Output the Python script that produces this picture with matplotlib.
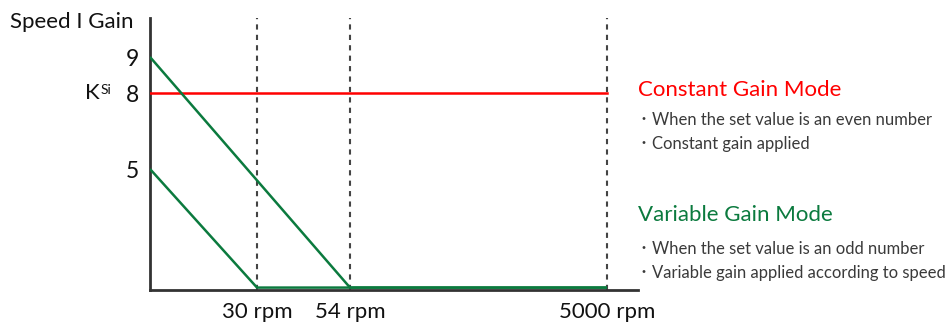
import numpy as np
import matplotlib.pyplot as plt

plt.rcParams['font.family'] = ['Lato', 'Noto Sans CJK JP', 'DejaVu Sans']

## values
rpm_ticks = [30, 54, 5000]
rpm_labels = ['30 rpm', '54 rpm', '5000 rpm']
gain_ticks = [5, 8, 9]
constant_gain = 8
var_low_rpm = [0, 30, 5000]
var_low_gain = [5, 0.1, 0.1]
var_high_rpm = [0, 54, 5000]
var_high_gain = [9, 0.1, 0.1]

const_title = 'Constant Gain Mode'
const_notes = ['When the set value is an even number', 'Constant gain applied']
var_title = 'Variable Gain Mode'
var_notes = ['When the set value is an odd number', 'Variable gain applied according to speed']

## the axes in the picture are schematic, so use piecewise scales
x_knots = [0, 30, 54, 5000, 6000]
x_px = [0, 107, 200, 457, 488]
y_knots = [0, 5, 8, 9, 10]
y_px = [0, 121, 197, 233, 272]

def fx(v):
    return np.interp(v, x_knots, x_px)

def ix(v):
    return np.interp(v, x_px, x_knots)

def fy(v):
    return np.interp(v, y_knots, y_px)

def iy(v):
    return np.interp(v, y_px, y_knots)

red = '#ff0000'
green = '#0b7a3e'
grey = '#444444'
note_col = '#3a3a3a'

fig = plt.figure(figsize=(9.52, 3.24), dpi=100)
ax = fig.add_axes([150/952, 1 - 290/324, 488/952, 272/324])
ax.set_xscale('function', functions=(fx, ix))
ax.set_yscale('function', functions=(fy, iy))
ax.set_xlim(0, 6000)
ax.set_ylim(0, 10)

for r in rpm_ticks:
    ax.axvline(r, color=grey, lw=1.5, ls=(0, (2.5, 2.5)), zorder=1)

ax.plot([0, 5000], [constant_gain, constant_gain], color=red, lw=1.8, zorder=3)
ax.plot(var_low_rpm, var_low_gain, color=green, lw=1.8, zorder=3, solid_capstyle='butt')
ax.plot(var_high_rpm, var_high_gain, color=green, lw=1.8, zorder=3, solid_capstyle='butt')

for s in ['top', 'right']:
    ax.spines[s].set_visible(False)
for s in ['left', 'bottom']:
    ax.spines[s].set_color('#333333')
    ax.spines[s].set_linewidth(2)

ax.set_xticks(rpm_ticks)
ax.set_xticklabels(rpm_labels)
ax.xaxis.set_minor_locator(plt.NullLocator())
ax.yaxis.set_minor_locator(plt.NullLocator())
ax.set_yticks(gain_ticks)
ax.set_yticklabels([str(g) for g in gain_ticks])
ax.tick_params(axis='x', length=0, pad=9, labelsize=16, labelcolor='#111111')
ax.tick_params(axis='y', length=0, pad=8, labelsize=16.5, labelcolor='#111111')

fig.text(10/952, 1 - 22/324, 'Speed I Gain', fontsize=16, color='#111111', va='center', ha='left')
ax.annotate('K', xy=(0, constant_gain), xycoords=('axes fraction', 'data'),
            xytext=(-36, 0), textcoords='offset points', fontsize=16,
            ha='right', va='center', color='#111111')
ax.annotate('Si', xy=(0, constant_gain), xycoords=('axes fraction', 'data'),
            xytext=(-35.5, 2), textcoords='offset points', fontsize=10,
            ha='left', va='center', color='#111111')

def notes(lines, y0):
    for i, t in enumerate(lines):
        y = 1 - (y0 + 24*i)/324
        fig.text(644/952, y, '・', fontsize=10, color=note_col, va='center', ha='center')
        fig.text(652/952, y, t, fontsize=12, color=note_col, va='center')

fig.text(638/952, 1 - 90/324, const_title, fontsize=16, color=red, va='center')
notes(const_notes, 120)
fig.text(638/952, 1 - 215/324, var_title, fontsize=16, color=green, va='center')
notes(var_notes, 249)

fig.savefig('out.png', dpi=100)
